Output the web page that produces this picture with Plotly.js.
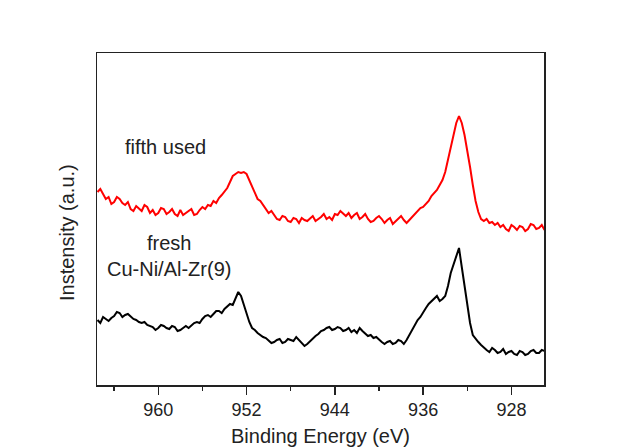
<!DOCTYPE html>
<html>
<head>
<meta charset="utf-8">
<script src="https://cdn.plot.ly/plotly-3.0.1.min.js"></script>
<style>
  html, body { margin: 0; padding: 0; background: #ffffff; }
  #chart { width: 621px; height: 448px; }
</style>
</head>
<body>
<div id="chart"></div>
<script>
// Binding energy (eV), shared by both spectra
const bindingEnergy = [
  965.5, 965.25, 965.0, 964.75, 964.5, 964.25, 964.0, 963.75, 963.5, 963.25,
  963.0, 962.75, 962.5, 962.25, 962.0, 961.75, 961.5, 961.25, 961.0, 960.75,
  960.5, 960.25, 960.0, 959.75, 959.5, 959.25, 959.0, 958.75, 958.5, 958.25,
  958.0, 957.75, 957.5, 957.25, 957.0, 956.75, 956.5, 956.25, 956.0, 955.75,
  955.5, 955.25, 955.0, 954.75, 954.5, 954.25, 954.0, 953.75, 953.5, 953.25,
  953.0, 952.75, 952.5, 952.25, 952.0, 951.75, 951.5, 951.25, 951.0, 950.75,
  950.5, 950.25, 950.0, 949.75, 949.5, 949.25, 949.0, 948.75, 948.5, 948.25,
  948.0, 947.75, 947.5, 947.25, 947.0, 946.75, 946.5, 946.25, 946.0, 945.75,
  945.5, 945.25, 945.0, 944.75, 944.5, 944.25, 944.0, 943.75, 943.5, 943.25,
  943.0, 942.75, 942.5, 942.25, 942.0, 941.75, 941.5, 941.25, 941.0, 940.75,
  940.5, 940.25, 940.0, 939.75, 939.5, 939.25, 939.0, 938.75, 938.5, 938.25,
  938.0, 937.75, 937.5, 937.25, 937.0, 936.75, 936.5, 936.25, 936.0, 935.75,
  935.5, 935.25, 935.0, 934.75, 934.5, 934.25, 934.0, 933.75, 933.5, 933.25,
  933.0, 932.75, 932.5, 932.25, 932.0, 931.75, 931.5, 931.25, 931.0, 930.75,
  930.5, 930.25, 930.0, 929.75, 929.5, 929.25, 929.0, 928.75, 928.5, 928.25,
  928.0, 927.75, 927.5, 927.25, 927.0, 926.75, 926.5, 926.25, 926.0, 925.75,
  925.5, 925.25, 925.0
];

// "fifth used" spectrum (red), intensity in a.u.
const fifthUsed = [
  193, 196, 191, 186, 188, 181, 183, 188, 186, 182,
  180, 183, 176, 174, 179, 176, 174, 180, 178, 172,
  175, 170, 172, 177, 176, 171, 173, 176, 171, 169,
  175, 170, 172, 174, 176, 170, 171, 175, 178, 176,
  180, 179, 184, 182, 187, 190, 194, 197, 203, 209,
  211, 213, 212, 213, 211, 205, 198, 192, 186, 184,
  180, 176, 172, 174, 170, 166, 165, 169, 168, 164,
  163, 167, 166, 162, 167, 165, 164, 167, 169, 164,
  166, 168, 171, 166, 168, 165, 171, 170, 174, 171,
  169, 172, 167, 170, 172, 166, 168, 171, 166, 163,
  164, 167, 169, 166, 162, 165, 167, 161, 164, 167,
  169, 165, 162, 165, 168, 171, 173, 177, 178, 181,
  184, 189, 192, 195, 200, 205, 213, 225, 240, 252,
  262, 269, 262, 250, 235, 218, 200, 184, 173, 166,
  164, 166, 162, 163, 160, 162, 158, 160, 156, 154,
  160, 158, 155, 159, 158, 154, 156, 161, 160, 156,
  157, 160, 155
];

// "fresh Cu-Ni/Al-Zr(9)" spectrum (black), intensity in a.u.
const fresh = [
  65, 62, 68, 66, 64, 67, 69, 73, 72, 68,
  70, 71, 68, 66, 65, 63, 62, 63, 60, 59,
  58, 55, 57, 60, 59, 57, 56, 59, 58, 54,
  55, 57, 59, 57, 60, 62, 63, 62, 66, 69,
  70, 68, 71, 74, 74, 72, 76, 79, 81, 80,
  86, 93, 89, 80, 70, 63, 57, 55, 52, 50,
  48, 47, 44, 42, 43, 45, 46, 42, 43, 46,
  45, 44, 48, 45, 43, 39, 41, 44, 47, 49,
  51, 54, 55, 57, 58, 55, 56, 58, 57, 54,
  55, 57, 53, 55, 52, 57, 54, 51, 49, 50,
  47, 48, 45, 43, 41, 43, 44, 41, 42, 45,
  44, 41, 45, 50, 55, 60, 65, 68, 73, 77,
  81, 84, 86, 89, 84, 86, 89, 99, 112, 121,
  130, 137, 118, 98, 78, 62, 50, 46, 43, 40,
  37, 35, 33, 37, 35, 32, 33, 36, 31, 33,
  34, 31, 30, 34, 33, 30, 31, 34, 35, 32,
  32, 35, 34
];

const majorTicks = [960, 952, 944, 936, 928];

const FONT = '"Liberation Sans", Arial, Helvetica, sans-serif';
const TXT = '#222222';

const traces = [
  { x: bindingEnergy, y: fifthUsed, type: 'scatter', mode: 'lines',
    name: 'fifth used', line: { color: '#ff0000', width: 2 } },
  { x: bindingEnergy, y: fresh, type: 'scatter', mode: 'lines',
    name: 'fresh Cu-Ni/Al-Zr(9)', line: { color: '#000000', width: 2 } }
];

const layout = {
  width: 621, height: 448,
  margin: { l: 97, r: 77, t: 53, b: 63, pad: 0 },
  paper_bgcolor: '#ffffff', plot_bgcolor: '#ffffff',
  showlegend: false,
  font: { family: FONT, color: TXT },
  xaxis: {
    range: [965.55, 925.05], autorange: false,
    tickmode: 'array', tickvals: majorTicks,
    ticks: 'outside', ticklen: 8, tickwidth: 1.5, tickcolor: TXT,
    minor: { tickmode: 'linear', tick0: 960, dtick: 4, ticks: 'outside', ticklen: 4, tickwidth: 1.5, tickcolor: TXT },
    showline: true, mirror: true, linewidth: 1.5, linecolor: TXT,
    showgrid: false, zeroline: false,
    tickfont: { family: FONT, size: 18, color: TXT },
    title: { text: 'Binding Energy (eV)', font: { family: FONT, size: 20, color: TXT }, standoff: 10 }
  },
  yaxis: {
    range: [0, 332], autorange: false,
    showticklabels: false, ticks: '',
    showline: true, mirror: true, linewidth: 1.5, linecolor: TXT,
    showgrid: false, zeroline: false
  },
  annotations: [
    { xref: 'paper', yref: 'paper', x: -0.067, y: 0.458, text: 'Instensity (a.u.)',
      textangle: -90, showarrow: false, xanchor: 'center', yanchor: 'middle',
      font: { family: FONT, size: 20, color: TXT } },
    { xref: 'x', yref: 'y', x: 959.3, y: 238, text: 'fifth used', showarrow: false,
      xanchor: 'center', yanchor: 'middle', font: { family: FONT, size: 20, color: TXT } },
    { xref: 'x', yref: 'y', x: 959.0, y: 129, text: 'fresh<br>Cu-Ni/Al-Zr(9)', showarrow: false,
      align: 'center', xanchor: 'center', yanchor: 'middle', font: { family: FONT, size: 20, color: TXT } }
  ]
};

Plotly.newPlot('chart', traces, layout, { displayModeBar: false, staticPlot: true });
</script>
</body>
</html>
